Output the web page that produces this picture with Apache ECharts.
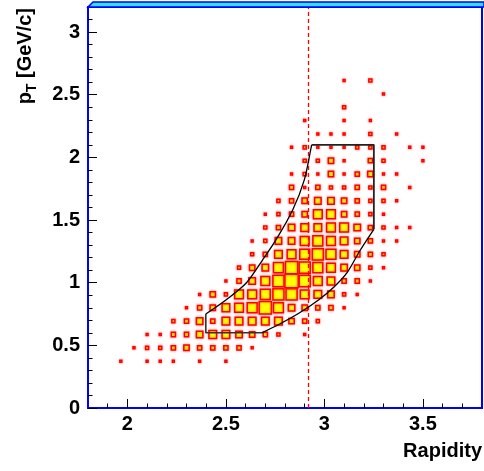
<!DOCTYPE html>
<html><head><meta charset="utf-8">
<script src="https://cdn.jsdelivr.net/npm/echarts@6/dist/echarts.min.js"></script>
<style>html,body{margin:0;padding:0;background:#fff}#c{width:484px;height:471px}</style>
</head><body><div id="c"></div>
<script>
// Histogram binning
const xMin = 1.8, xMax = 3.8, nBinsX = 30;
const yMin = 0, yMax = 3.2, nBinsY = 30;
// Tick values
const xMajorTicks = [2, 2.5, 3, 3.5];
const xMinorTicks = [1.9, 2.1, 2.2, 2.3, 2.4, 2.6, 2.7, 2.8, 2.9, 3.1, 3.2, 3.3, 3.4, 3.6, 3.7];
const yMajorTicks = [0, 0.5, 1, 1.5, 2, 2.5, 3];
const yMinorTicks = [0.1,0.2,0.3,0.4,0.6,0.7,0.8,0.9,1.1,1.2,1.3,1.4,1.6,1.7,1.8,1.9,2.1,2.2,2.3,2.4,2.6,2.7,2.8,2.9,3.1];
// Bin contents: [x bin index, y bin index, content]
const cells = [
 [2,3,3],[4,3,3],[5,3,3],[6,3,3],[8,3,3],[10,3,3],
 [3,4,3],[4,4,4],[5,4,4],[6,4,5],[7,4,6],[8,4,5],[9,4,5],[10,4,5],[11,4,5],[12,4,3],
 [4,5,3],[5,5,3],[6,5,5],[7,5,5],[8,5,7],[9,5,8],[10,5,8],[11,5,7],[12,5,6],[13,5,5],[14,5,4],[16,5,3],
 [6,6,4],[7,6,5],[8,6,7],[9,6,5],[10,6,8],[11,6,8],[12,6,8],[13,6,8],[14,6,8],[15,6,6],[16,6,5],[17,6,4],
 [7,7,3],[8,7,5],[9,7,6],[10,7,8],[11,7,9],[12,7,10],[13,7,12],[14,7,10],[15,7,7],[16,7,6],[17,7,5],[18,7,5],[19,7,3],
 [8,8,3],[9,8,6],[10,8,4],[11,8,9],[12,8,9],[13,8,10],[14,8,11],[15,8,11],[16,8,9],[17,8,8],[18,8,7],[19,8,4],[20,8,3],
 [10,9,3],[11,9,5],[12,9,7],[13,9,9],[14,9,11],[15,9,13],[16,9,11],[17,9,9],[18,9,8],[19,9,5],[20,9,5],[21,9,3],
 [11,10,4],[12,10,6],[13,10,7],[14,10,10],[15,10,12],[16,10,11],[17,10,10],[18,10,9],[19,10,7],[20,10,6],[21,10,4],[22,10,3],
 [12,11,4],[13,11,5],[14,11,8],[15,11,9],[16,11,10],[17,11,11],[18,11,10],[19,11,8],[20,11,6],[21,11,5],[22,11,4],
 [12,12,3],[13,12,4],[14,12,7],[15,12,7],[16,12,9],[17,12,10],[18,12,9],[19,12,8],[20,12,6],[21,12,5],[22,12,3],[23,12,3],
 [13,13,4],[14,13,5],[15,13,7],[16,13,8],[17,13,8],[18,13,9],[19,13,9],[20,13,7],[21,13,5],[22,13,4],[23,13,3],[24,13,3],
 [13,14,3],[14,14,4],[15,14,5],[16,14,6],[17,14,9],[18,14,9],[19,14,6],[20,14,5],[21,14,4],[22,14,3],
 [14,15,4],[15,15,5],[16,15,6],[17,15,7],[18,15,7],[19,15,6],[20,15,5],[21,15,4],[22,15,4],[23,15,3],
 [15,16,5],[16,16,3],[17,16,5],[18,16,4],[19,16,4],[20,16,5],[21,16,4],[22,16,5],[24,16,3],
 [15,17,3],[16,17,4],[17,17,3],[18,17,6],[19,17,3],[20,17,5],[21,17,6],[22,17,3],[23,17,3],
 [16,18,4],[17,18,4],[18,18,6],[19,18,3],[21,18,5],[22,18,4],[25,18,3],
 [15,19,3],[16,19,4],[17,19,3],[18,19,3],[19,19,3],[20,19,4],[21,19,4],[22,19,4],[24,19,3],[25,19,3],
 [17,20,3],[18,20,3],[19,20,3],[21,20,4],[23,20,3],
 [16,21,3],[19,21,3],[21,21,3],
 [19,22,4],
 [22,23,3],
 [19,24,3],[21,24,4]
];
const zMax = 11.5;
// Acceptance contour
const upperCurve = [[2.398,0.750],[2.500,0.862],[2.602,0.995],[2.686,1.181],[2.754,1.341],[2.839,1.580],[2.898,1.820],[2.932,2.073],[2.935,2.100]];
const lowerCurve = [[2.683,0.600],[2.775,0.672],[2.870,0.756],[2.970,0.862],[3.050,0.968],[3.115,1.080],[3.180,1.255],[3.251,1.426]];
const topRightEdge = [[2.935,2.100],[3.251,2.100],[3.251,1.426]];
const bottomLeftEdge = [[2.398,0.750],[2.398,0.600],[2.683,0.600]];
const cutRapidity = 2.915;

const FONT = 'Liberation Sans';
const dxBin = (xMax - xMin) / nBinsX, dyBin = (yMax - yMin) / nBinsY;

const chart = echarts.init(document.getElementById('c'), null, {renderer:'canvas'});
const lineCommon = {type:'line', showSymbol:false, symbol:'none', silent:true, z:5, animation:false,
  xAxisIndex:0, yAxisIndex:0, lineStyle:{color:'#000', width:1.3}};
chart.setOption({
  animation:false,
  backgroundColor:'#fff',
  grid:{left:88, right:2, top:7, bottom:63, show:true, borderColor:'#0000ff', borderWidth:2, backgroundColor:'#fff'},
  xAxis:[
    {type:'value', min:xMin, max:xMax, position:'bottom', axisLine:{show:false}, splitLine:{show:false},
     axisTick:{show:true, inside:true, length:9, customValues:xMajorTicks, lineStyle:{color:'#000', width:1}},
     axisLabel:{show:true, customValues:xMajorTicks, fontFamily:FONT, fontWeight:'bold', fontSize:20, color:'#000', margin:6}},
    {type:'value', min:xMin, max:xMax, position:'bottom', axisLine:{show:false}, splitLine:{show:false},
     axisTick:{show:true, inside:true, length:4.5, customValues:xMinorTicks, lineStyle:{color:'#000', width:1}},
     axisLabel:{show:false}}
  ],
  yAxis:[
    {type:'value', min:yMin, max:yMax, position:'left', axisLine:{show:false}, splitLine:{show:false},
     axisTick:{show:true, inside:true, length:9, customValues:yMajorTicks, lineStyle:{color:'#000', width:1}},
     axisLabel:{show:true, customValues:yMajorTicks, fontFamily:FONT, fontWeight:'bold', fontSize:20, color:'#000', margin:8}},
    {type:'value', min:yMin, max:yMax, position:'left', axisLine:{show:false}, splitLine:{show:false},
     axisTick:{show:true, inside:true, length:4.5, customValues:yMinorTicks, lineStyle:{color:'#000', width:1}},
     axisLabel:{show:false}}
  ],
  graphic:[
    {type:'polygon', shape:{points:[[88,7],[93,2],[484,2],[484,7]]}, style:{fill:'#2fe0ff', stroke:'#0000ff', lineWidth:1.5}, z:10},
    {type:'text', x:26, y:8, rotation:Math.PI/2, z:10,
     style:{text:'{p|p}{s|T}{p| [GeV/c]}', align:'right', verticalAlign:'middle', textAlign:'right', textVerticalAlign:'middle',
       fill:'#000',
       rich:{p:{fontFamily:FONT, fontWeight:'bold', fontSize:20, fill:'#000', lineHeight:22, verticalAlign:'top'},
             s:{fontFamily:FONT, fontWeight:'bold', fontSize:14, fill:'#000', lineHeight:14, verticalAlign:'top', padding:[10,0,0,0]}}}},
    {type:'text', x:482, y:451, z:10,
     style:{text:'Rapidity', align:'right', verticalAlign:'middle', textAlign:'right', textVerticalAlign:'middle',
       font:'bold 20px "Liberation Sans"', fill:'#000'}}
  ],
  series:[
    {type:'custom', xAxisIndex:0, yAxisIndex:0, z:2, silent:true, animation:false,
     data:cells,
     renderItem:function(params, api){
       const ix = api.value(0), iy = api.value(1), v = api.value(2);
       const xc = xMin + (ix + 0.5) * dxBin, yc = yMin + (iy + 0.5) * dyBin;
       const c = api.coord([xc, yc]);
       const bs = api.size([dxBin, dyBin]);
       const f = v / zMax;
       const lw = 1.5;
       const w = Math.max(bs[0] * f - lw, 0.8), h = Math.max(bs[1] * f - lw, 0.8);
       return {type:'rect', shape:{x:c[0]-w/2, y:c[1]-h/2, width:w, height:h},
         style:{fill:'#ffff00', stroke:'#ff0000', lineWidth:lw, shadowColor:'rgba(255,70,70,0.6)', shadowBlur:2.5}};
     }},
    Object.assign({}, lineCommon, {data:upperCurve, smooth:0.3,
      markLine:{silent:true, symbol:'none', label:{show:false}, animation:false,
        lineStyle:{color:'#ff0000', type:[4,3], width:1.3}, data:[{xAxis:cutRapidity}]}}),
    Object.assign({}, lineCommon, {data:lowerCurve, smooth:0.3}),
    Object.assign({}, lineCommon, {data:topRightEdge, lineStyle:{color:'#222', width:1.8}}),
    Object.assign({}, lineCommon, {data:bottomLeftEdge, lineStyle:{color:'#333', width:1.6}})
  ]
});
</script></body></html>
